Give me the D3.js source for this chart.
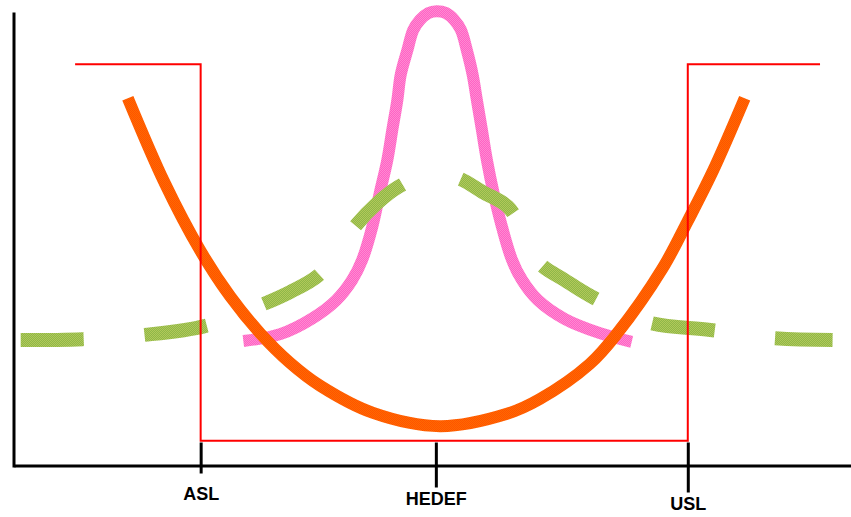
<!DOCTYPE html>
<html>
<head>
<meta charset="utf-8">
<script src="https://cdn.jsdelivr.net/npm/d3@7"></script>
<style>
  html, body { margin: 0; padding: 0; background: #fff; }
  svg { display: block; }
</style>
</head>
<body>
<svg id="svg_chart"></svg>
<script>
let width = 851;
let height = 517;

// x axis ticks
const xTicks = [22.3, 50.4, 80.5];
const tickLabels = ["ASL", "HEDEF", "USL"];

// spec limits (step line)
const specX = [7.3, 22.3, 22.3, 80.5, 80.5, 96.3];
const specY = [87.7, 87.7, 5.5, 5.5, 87.7, 87.7];

// loss function (parabola)
const lossX = [13.6, 18.0, 22.2, 25.8, 29.4, 33.0, 36.6, 42.9, 50.9, 58.9, 62.8, 68.8, 72.0, 77.5, 80.5, 83.5, 87.3];
const lossY = [80.3, 61.8, 47.2, 37.1, 29.0, 22.5, 17.5, 11.6, 8.7, 11.4, 14.6, 22.3, 28.8, 43.2, 53.5, 64.4, 80.3];

// narrow distribution (pink)
const narrowX = [27.4, 31.8, 35.7, 38.5, 40.4, 41.6, 42.8, 43.7, 44.6, 45.2, 45.8, 46.2, 47.0, 47.7, 48.5, 49.5, 50.5,
                 51.6, 52.6, 53.4, 54.1, 54.8, 55.3, 55.9, 56.5, 57.3, 58.3, 59.5, 60.7, 62.6, 65.8, 70.0, 73.8];
const narrowY = [27.3, 28.8, 32.3, 36.2, 40.6, 45.0, 52.2, 59.6, 66.8, 73.4, 79.9, 85.4, 90.8, 95.2, 97.4, 98.9, 99.3,
                 98.9, 97.4, 95.2, 90.8, 85.4, 79.9, 73.4, 66.8, 59.6, 52.2, 45.0, 40.6, 36.2, 32.1, 29.0, 27.1];

// wide distribution (green, dashed)
const wideX = [0.8, 8.2, 15.4, 22.9, 29.6, 33.0, 36.3, 38.7, 40.7, 43.4, 45.9, 49.5, 53.0, 56.0, 59.0, 61.1, 62.8, 65.8, 69.1, 75.7, 83.2, 90.3, 97.8];
const wideY = [27.5, 27.7, 28.6, 30.6, 35.2, 38.0, 41.5, 46.7, 52.2, 57.4, 60.9, 63.8, 62.9, 59.8, 56.6, 50.4, 44.3, 40.6, 36.9, 31.4, 29.7, 28.0, 27.5];

// per tick styling (px below axis)
const tickDown = [8, 22, 27];
const labelDown = [34, 39, 44];

let svg = d3.select("#svg_chart")
    .attr("width", width)
    .attr("height", height);

let x = d3.scaleLinear().domain([0, 100]).range([14, 851]);
let y = d3.scaleLinear().domain([0, 100]).range([466, 8]);

// dithered stroke textures
let defs = svg.append("defs");
function addPattern(id, base, dot) {
    let p = defs.append("pattern")
        .attr("id", id)
        .attr("patternUnits", "userSpaceOnUse")
        .attr("width", 2)
        .attr("height", 2);
    p.append("rect").attr("width", 2).attr("height", 2).attr("fill", base);
    p.append("rect").attr("width", 1).attr("height", 1).attr("fill", dot);
    p.append("rect").attr("x", 1).attr("y", 1).attr("width", 1).attr("height", 1).attr("fill", dot);
}
addPattern("patOrange", "#ff6a00", "#ff5200");
addPattern("patPink", "#ff62c4", "#ff8ad2");
addPattern("patGreen", "#8eb848", "#b2c85a");

function pts(xs, ys) {
    return xs.map((d, i) => [d, ys[i]]);
}

let smooth = d3.line()
    .x(d => x(d[0]))
    .y(d => y(d[1]))
    .curve(d3.curveCatmullRom.alpha(0.5));

let straight = d3.line()
    .x(d => x(d[0]))
    .y(d => y(d[1]));

// pink
svg.append("path")
    .attr("d", smooth(pts(narrowX, narrowY)))
    .attr("fill", "none")
    .attr("stroke", "url(#patPink)")
    .attr("stroke-width", 12);

// green dashed
svg.append("path")
    .attr("d", smooth(pts(wideX, wideY)))
    .attr("fill", "none")
    .attr("stroke", "url(#patGreen)")
    .attr("stroke-width", 14)
    .attr("stroke-dasharray", "63 61");

// orange
svg.append("path")
    .attr("d", smooth(pts(lossX, lossY)))
    .attr("fill", "none")
    .attr("stroke", "url(#patOrange)")
    .attr("stroke-width", 12);

// red spec limits
svg.append("path")
    .attr("d", straight(pts(specX, specY)))
    .attr("fill", "none")
    .attr("stroke", "#ff0000")
    .attr("stroke-width", 2);

// y axis (no ticks)
svg.append("line")
    .attr("x1", x(0)).attr("x2", x(0))
    .attr("y1", y(0) + 1.5).attr("y2", y(99))
    .attr("stroke", "black")
    .attr("stroke-width", 3);

// x axis
let xAxis = d3.axisBottom(x)
    .tickValues(xTicks)
    .tickFormat((d, i) => tickLabels[i])
    .tickSizeOuter(0);

let gx = svg.append("g")
    .attr("transform", "translate(0," + (y(0) - 0.5) + ")")
    .call(xAxis);

gx.select(".domain").attr("stroke", "black").attr("stroke-width", 3);
gx.selectAll(".tick line")
    .attr("stroke", "black")
    .attr("stroke-width", 3)
    .attr("y1", -23)
    .attr("y2", (d, i) => tickDown[i]);
gx.selectAll(".tick text")
    .attr("y", (d, i) => labelDown[i])
    .attr("dy", 0)
    .attr("fill", "black")
    .style("font-family", "'Liberation Sans', Arial, sans-serif")
    .style("font-weight", "bold")
    .style("font-size", "18px");
</script>
</body>
</html>
